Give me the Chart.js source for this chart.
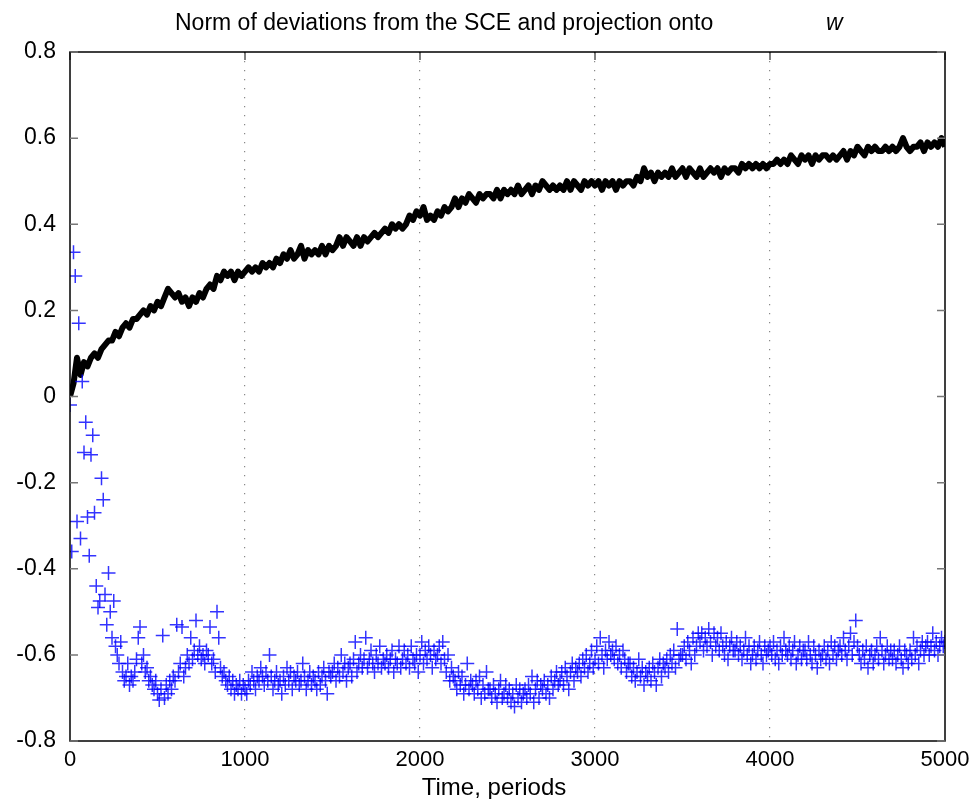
<!DOCTYPE html>
<html>
<head>
    <title>Norm of deviations from the SCE</title>
    <script src="https://cdn.jsdelivr.net/npm/chart.js"></script>
    <style>
        body { margin: 0; background: #fff; }
        #sceChart { display: block; }
    </style>
</head>
<body>
    <canvas id="sceChart" width="969" height="799"></canvas>

    <script>
        // time axis
        const xTicks = [0, 1000, 2000, 3000, 4000, 5000];
        const yTicks = [-0.8, -0.6, -0.4, -0.2, 0, 0.2, 0.4, 0.6, 0.8];
        const yTickLabels = ['-0.8', '-0.6', '-0.4', '-0.2', '0', '0.2', '0.4', '0.6', '0.8'];

        // norm of deviations, one value every 20 periods
        const normStep = 20;
        const normValues = [
            0.00,0.03,0.09,0.05,0.08,0.07,0.09,0.10,0.09,0.11,
            0.12,0.13,0.13,0.15,0.14,0.16,0.17,0.16,0.18,0.18,
            0.19,0.20,0.19,0.21,0.20,0.22,0.21,0.23,0.25,0.24,
            0.23,0.24,0.22,0.23,0.21,0.23,0.22,0.24,0.23,0.25,
            0.26,0.25,0.28,0.27,0.29,0.28,0.29,0.27,0.29,0.28,
            0.29,0.30,0.29,0.30,0.29,0.31,0.30,0.31,0.30,0.32,
            0.31,0.33,0.32,0.34,0.32,0.33,0.35,0.32,0.34,0.33,
            0.34,0.33,0.35,0.33,0.35,0.34,0.35,0.37,0.35,0.37,
            0.36,0.35,0.37,0.35,0.37,0.36,0.37,0.38,0.37,0.38,
            0.39,0.38,0.40,0.39,0.40,0.39,0.40,0.42,0.41,0.43,
            0.42,0.44,0.41,0.42,0.41,0.43,0.42,0.44,0.43,0.44,
            0.46,0.44,0.46,0.45,0.47,0.46,0.45,0.47,0.46,0.47,
            0.47,0.46,0.48,0.46,0.48,0.47,0.48,0.47,0.49,0.47,
            0.48,0.49,0.47,0.49,0.48,0.50,0.49,0.48,0.49,0.48,
            0.49,0.48,0.50,0.48,0.50,0.49,0.48,0.50,0.49,0.50,
            0.49,0.50,0.48,0.50,0.49,0.50,0.48,0.50,0.49,0.50,
            0.50,0.49,0.51,0.50,0.53,0.51,0.52,0.50,0.52,0.51,
            0.52,0.51,0.53,0.51,0.52,0.53,0.51,0.53,0.52,0.51,
            0.53,0.51,0.52,0.53,0.52,0.53,0.51,0.53,0.52,0.53,
            0.53,0.52,0.54,0.53,0.54,0.53,0.54,0.53,0.54,0.53,
            0.54,0.54,0.55,0.54,0.55,0.54,0.56,0.55,0.54,0.56,
            0.55,0.56,0.54,0.56,0.55,0.56,0.56,0.55,0.56,0.55,
            0.56,0.57,0.55,0.57,0.56,0.58,0.57,0.56,0.58,0.57,
            0.58,0.57,0.57,0.58,0.57,0.58,0.57,0.58,0.60,0.58,
            0.57,0.58,0.58,0.59,0.57,0.59,0.58,0.59,0.58,0.60,
            0.58
        ];

        // projection onto w, one value every 10 periods
        const projStep = 10;
        const projValues = [
            -0.02,-0.36,0.335,0.28,-0.29,0.17,-0.33,0.035,-0.13,-0.06,
            -0.28,-0.37,-0.135,-0.09,-0.27,-0.44,-0.49,-0.475,-0.19,-0.24,
            -0.46,-0.53,-0.41,-0.50,-0.56,-0.475,-0.58,-0.60,-0.62,-0.57,
            -0.64,-0.66,-0.65,-0.62,-0.67,-0.65,-0.66,-0.64,-0.61,-0.56,
            -0.535,-0.62,-0.60,-0.64,-0.63,-0.66,-0.65,-0.67,-0.68,-0.66,
            -0.69,-0.705,-0.68,-0.555,-0.70,-0.67,-0.69,-0.66,-0.68,-0.65,
            -0.66,-0.53,-0.64,-0.62,-0.535,-0.65,-0.63,-0.60,-0.62,-0.56,
            -0.61,-0.59,-0.52,-0.60,-0.58,-0.61,-0.60,-0.62,-0.59,-0.60,
            -0.535,-0.62,-0.61,-0.64,-0.50,-0.56,-0.63,-0.65,-0.64,-0.66,
            -0.67,-0.65,-0.68,-0.66,-0.69,-0.67,-0.68,-0.66,-0.69,-0.67,
            -0.68,-0.69,-0.66,-0.67,-0.64,-0.66,-0.68,-0.65,-0.66,-0.63,
            -0.65,-0.67,-0.64,-0.66,-0.60,-0.65,-0.68,-0.66,-0.64,-0.67,
            -0.66,-0.69,-0.65,-0.67,-0.63,-0.66,-0.64,-0.68,-0.65,-0.66,
            -0.64,-0.67,-0.66,-0.62,-0.65,-0.68,-0.66,-0.64,-0.67,-0.65,
            -0.66,-0.68,-0.64,-0.67,-0.65,-0.63,-0.66,-0.69,-0.64,-0.65,
            -0.64,-0.62,-0.66,-0.63,-0.65,-0.60,-0.64,-0.62,-0.66,-0.63,
            -0.62,-0.65,-0.61,-0.57,-0.64,-0.62,-0.60,-0.63,-0.61,-0.56,
            -0.63,-0.61,-0.59,-0.62,-0.64,-0.60,-0.62,-0.58,-0.63,-0.61,
            -0.62,-0.60,-0.63,-0.61,-0.59,-0.64,-0.61,-0.62,-0.58,-0.63,
            -0.61,-0.59,-0.62,-0.60,-0.63,-0.58,-0.61,-0.62,-0.60,-0.64,
            -0.60,-0.57,-0.62,-0.59,-0.61,-0.58,-0.60,-0.63,-0.59,-0.61,
            -0.60,-0.58,-0.62,-0.57,-0.61,-0.64,-0.60,-0.66,-0.63,-0.65,
            -0.66,-0.68,-0.64,-0.67,-0.65,-0.69,-0.67,-0.62,-0.68,-0.66,
            -0.67,-0.69,-0.66,-0.68,-0.65,-0.70,-0.67,-0.69,-0.64,-0.68,
            -0.68,-0.70,-0.67,-0.69,-0.71,-0.68,-0.66,-0.70,-0.69,-0.67,
            -0.70,-0.68,-0.71,-0.69,-0.72,-0.67,-0.70,-0.68,-0.71,-0.69,
            -0.68,-0.70,-0.67,-0.69,-0.65,-0.71,-0.68,-0.66,-0.70,-0.67,
            -0.68,-0.66,-0.69,-0.67,-0.70,-0.65,-0.68,-0.66,-0.64,-0.67,
            -0.66,-0.64,-0.67,-0.63,-0.65,-0.68,-0.64,-0.62,-0.66,-0.63,
            -0.64,-0.62,-0.65,-0.61,-0.63,-0.60,-0.64,-0.62,-0.59,-0.63,
            -0.61,-0.58,-0.62,-0.56,-0.60,-0.63,-0.59,-0.61,-0.57,-0.60,
            -0.59,-0.61,-0.58,-0.62,-0.60,-0.63,-0.59,-0.61,-0.64,-0.62,
            -0.62,-0.65,-0.63,-0.66,-0.64,-0.61,-0.65,-0.63,-0.67,-0.64,
            -0.65,-0.63,-0.66,-0.62,-0.64,-0.67,-0.63,-0.61,-0.65,-0.62,
            -0.63,-0.61,-0.64,-0.60,-0.62,-0.59,-0.63,-0.54,-0.61,-0.60,
            -0.60,-0.58,-0.61,-0.57,-0.59,-0.62,-0.56,-0.60,-0.58,-0.55,
            -0.57,-0.55,-0.59,-0.56,-0.58,-0.54,-0.57,-0.60,-0.55,-0.58,
            -0.56,-0.59,-0.55,-0.58,-0.60,-0.57,-0.61,-0.58,-0.56,-0.59,
            -0.59,-0.57,-0.60,-0.58,-0.61,-0.59,-0.56,-0.60,-0.58,-0.62,
            -0.60,-0.58,-0.61,-0.59,-0.57,-0.60,-0.62,-0.58,-0.60,-0.59,
            -0.58,-0.60,-0.57,-0.61,-0.59,-0.62,-0.58,-0.60,-0.56,-0.59,
            -0.60,-0.58,-0.61,-0.59,-0.57,-0.62,-0.60,-0.58,-0.61,-0.59,
            -0.59,-0.61,-0.57,-0.60,-0.62,-0.58,-0.60,-0.63,-0.59,-0.61,
            -0.60,-0.58,-0.61,-0.59,-0.62,-0.57,-0.60,-0.58,-0.61,-0.59,
            -0.58,-0.60,-0.56,-0.59,-0.61,-0.58,-0.55,-0.60,-0.57,-0.52,
            -0.58,-0.60,-0.62,-0.59,-0.61,-0.58,-0.63,-0.60,-0.59,-0.62,
            -0.60,-0.58,-0.61,-0.56,-0.59,-0.62,-0.60,-0.58,-0.61,-0.59,
            -0.61,-0.59,-0.62,-0.60,-0.58,-0.61,-0.63,-0.59,-0.60,-0.62,
            -0.59,-0.61,-0.56,-0.60,-0.58,-0.62,-0.59,-0.57,-0.60,-0.58,
            -0.57,-0.60,-0.58,-0.55,-0.59,-0.57,-0.60,-0.58,-0.56,-0.58,
            -0.57
        ];

        const FONT = "'Liberation Sans', Arial, sans-serif";

        const normPoints = normValues.map((v, i) => ({ x: i * normStep, y: v }));
        const projPoints = projValues.map((v, i) => ({ x: i * projStep, y: v }));

        // frame, inner tick marks and the text around the plot
        const framePlugin = {
            id: 'frame',
            afterDraw(chart) {
                const ctx = chart.ctx;
                const a = chart.chartArea;
                const xs = chart.scales.x, ys = chart.scales.y;
                ctx.save();
                ctx.strokeStyle = '#000';
                ctx.lineWidth = 1.5;
                ctx.strokeRect(a.left, a.top, a.right - a.left, a.bottom - a.top);

                ctx.strokeStyle = '#777';
                ctx.lineWidth = 1.5;
                yTicks.forEach(v => {
                    const py = ys.getPixelForValue(v);
                    ctx.beginPath();
                    ctx.moveTo(a.left, py); ctx.lineTo(a.left + 8, py);
                    ctx.moveTo(a.right, py); ctx.lineTo(a.right - 8, py);
                    ctx.stroke();
                });
                ctx.strokeStyle = '#000';
                ctx.lineWidth = 1;
                xTicks.forEach(v => {
                    const px = xs.getPixelForValue(v);
                    ctx.beginPath();
                    ctx.moveTo(px, a.top); ctx.lineTo(px, a.top + 8);
                    ctx.stroke();
                });

                ctx.fillStyle = '#000';
                ctx.textBaseline = 'alphabetic';
                ctx.textAlign = 'left';
                ctx.font = '23px ' + FONT;
                ctx.fillText('Norm of deviations from the SCE and projection onto', 175, 30);
                ctx.font = 'italic 23px ' + FONT;
                ctx.fillText('w', 826, 30);
                ctx.textAlign = 'center';
                ctx.font = '24px ' + FONT;
                ctx.fillText('Time, periods', 494, 795);
                ctx.restore();
            }
        };

        const ctx = document.getElementById('sceChart').getContext('2d');
        new Chart(ctx, {
            type: 'scatter',
            data: {
                datasets: [{
                    label: 'Norm of deviations',
                    type: 'line',
                    data: normPoints,
                    borderColor: '#000',
                    borderWidth: 6,
                    borderJoinStyle: 'round',
                    pointRadius: 0,
                    tension: 0,
                    fill: false,
                    order: 2
                }, {
                    label: 'Projection onto w',
                    data: projPoints,
                    pointStyle: 'cross',
                    pointRadius: 7,
                    borderWidth: 1.5,
                    borderColor: 'rgba(0, 0, 255, 0.8)',
                    backgroundColor: 'rgba(0, 0, 255, 0.8)',
                    order: 1
                }]
            },
            options: {
                responsive: false,
                animation: false,
                layout: { padding: { top: 52, right: 24, left: 0, bottom: 0 } },
                plugins: {
                    legend: { display: false },
                    tooltip: { enabled: false },
                    title: { display: false }
                },
                scales: {
                    x: {
                        type: 'linear',
                        min: 0,
                        max: 5000,
                        afterFit(scale) {
                            scale.height = 58;
                            scale.paddingLeft = 0;
                            scale.paddingRight = 0;
                        },
                        afterBuildTicks(scale) { scale.ticks = xTicks.map(v => ({ value: v })); },
                        ticks: {
                            color: '#000',
                            padding: 6,
                            maxRotation: 0,
                            font: { family: FONT, size: 22 },
                            callback: v => String(v)
                        },
                        grid: {
                            color: c => (c.tick && (c.tick.value === 0 || c.tick.value === 5000)) ? 'rgba(0,0,0,0)' : '#888',
                            lineWidth: 1.2,
                            drawTicks: false
                        },
                        border: { display: false, dash: [1.2, 7.8] }
                    },
                    y: {
                        type: 'linear',
                        min: -0.8,
                        max: 0.8,
                        afterFit(scale) {
                            scale.width = 70;
                            scale.paddingTop = 0;
                            scale.paddingBottom = 0;
                        },
                        afterBuildTicks(scale) { scale.ticks = yTicks.map(v => ({ value: v })); },
                        ticks: {
                            color: '#000',
                            padding: 14,
                            font: { family: FONT, size: 23 },
                            callback: (v, i) => yTickLabels[i]
                        },
                        grid: { display: false, drawTicks: false },
                        border: { display: false }
                    }
                }
            },
            plugins: [framePlugin]
        });
    </script>
</body>
</html>
